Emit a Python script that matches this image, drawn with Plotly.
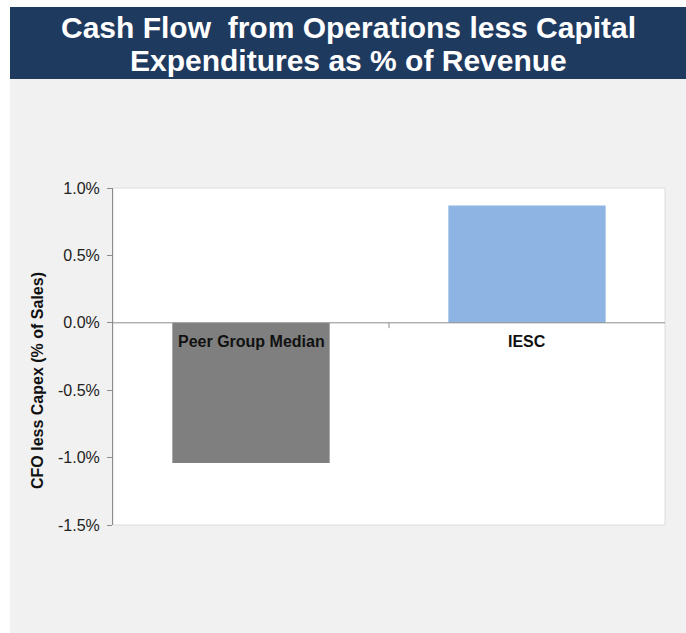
import plotly.graph_objects as go

categories = ["Peer Group Median", "IESC"]
values = [-1.04, 0.87]
colors = ["#7F7F7F", "#8DB4E2"]
tick_vals = [1.0, 0.5, 0.0, -0.5, -1.0, -1.5]
tick_text = ["1.0%", "0.5%", "0.0%", "-0.5%", "-1.0%", "-1.5%"]
title_lines = ["Cash Flow  from Operations less Capital", "Expenditures as % of Revenue"]

W, H = 686, 633
L, R, T, B = 113, 21, 188, 108
FONT = "Liberation Sans, Arial"

fig = go.Figure()
fig.add_trace(go.Bar(x=categories, y=values, marker=dict(color=colors, line=dict(width=0)),
                     width=0.57, hoverinfo="skip"))

pw = W - L - R
ph = H - T - B
def px(x):
    return (x - L) / pw
def py(y):
    return 1 - (y - T) / ph

shapes = [
    dict(type="rect", xref="paper", yref="paper", x0=px(10), x1=px(W + 5), y0=py(H + 5), y1=py(79),
         fillcolor="#F1F1F1", line=dict(width=0), layer="below"),
    dict(type="rect", xref="paper", yref="paper", x0=px(10), x1=px(W + 5), y0=py(79), y1=py(7),
         fillcolor="#1F3A5F", line=dict(width=0), layer="below"),
    dict(type="rect", xref="paper", yref="paper", x0=0, x1=1, y0=0, y1=1,
         fillcolor="white", line=dict(width=1, color="#DCDCDC"), layer="below"),
    dict(type="line", xref="paper", yref="y", x0=0, x1=1, y0=0, y1=0,
         line=dict(color="#8C8C8C", width=1)),
    dict(type="line", xref="paper", yref="y", x0=0.5, x1=0.5, y0=0, y1=-0.04,
         line=dict(color="#8C8C8C", width=1)),
]

annotations = [
    dict(text="<b>CFO less Capex (% of Sales)</b>", xref="paper", yref="paper",
         x=px(37), y=py(381), xanchor="center", yanchor="middle", textangle=-90,
         showarrow=False, font=dict(family=FONT, size=16, color="#111111")),
]
for line, yc in zip(title_lines, [27, 60]):
    annotations.append(dict(text="<b>" + line + "</b>", xref="paper", yref="paper",
                            x=px(348), y=py(yc), xanchor="center", yanchor="middle",
                            showarrow=False, font=dict(family=FONT, size=30, color="white")))
for c in categories:
    annotations.append(dict(text="<b>" + c + "</b>", x=c, y=0, xref="x", yref="y",
                            yanchor="middle", yshift=-19, showarrow=False,
                            font=dict(family=FONT, size=16, color="#111111")))

fig.update_layout(
    width=W, height=H,
    margin=dict(l=L, r=R, t=T, b=B, pad=0),
    paper_bgcolor="white", plot_bgcolor="rgba(0,0,0,0)",
    showlegend=False, bargap=0.43,
    shapes=shapes, annotations=annotations,
    xaxis=dict(showticklabels=False, showgrid=False, zeroline=False, showline=False, ticks=""),
    yaxis=dict(range=[-1.5, 1.0], tickvals=tick_vals, ticktext=tick_text, showgrid=False,
               zeroline=False, showline=True, linecolor="#8C8C8C", linewidth=1,
               ticks="outside", ticklen=5, tickcolor="#8C8C8C", ticklabelstandoff=4,
               tickfont=dict(family=FONT, size=16, color="#222222")),
)

fig.write_html("out.html")
